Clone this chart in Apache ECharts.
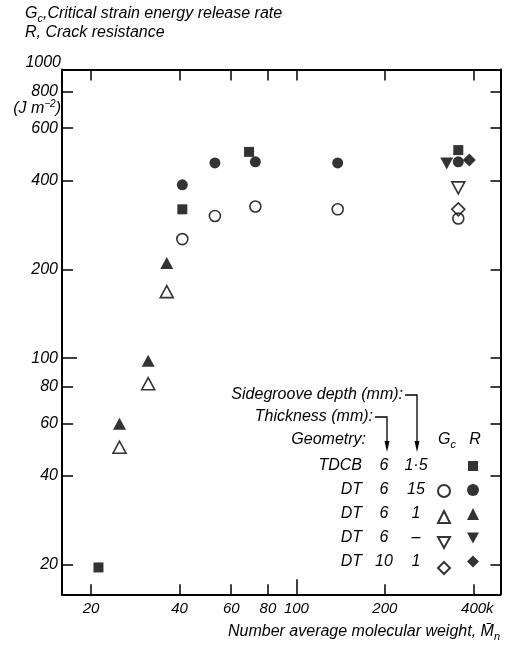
<!DOCTYPE html>
<html>
<head>
<meta charset="utf-8">
<script src="https://cdn.jsdelivr.net/npm/echarts@6/dist/echarts.min.js"></script>
<style>
  html, body { margin: 0; padding: 0; background: #fff; }
  #chart { width: 505px; height: 646px; }
</style>
</head>
<body>
<div id="chart"></div>
<script>
// Tick values: molecular weight (k) and energy (J m^-2)
const xTicks = [20, 40, 60, 80, 100, 200, 400];
const yTicks = [20, 40, 60, 80, 100, 200, 400, 600, 800];

// Measurements: [Mn (k), value (J m^-2)]
const tdcbR   = [[21.2, 19.6], [40.9, 319], [69, 499], [355.6, 506]];
const dt615Gc = [[40.9, 253], [52.8, 303], [72.5, 326], [138.2, 319], [355.6, 297]];
const dt615R  = [[40.9, 386], [52.8, 458], [72.5, 462], [138.2, 458], [355.6, 462]];
const dt61Gc  = [[25, 50], [31.3, 82], [36.2, 168]];
const dt61R   = [[25, 60], [31.3, 98], [36.2, 210]];
const dt6Gc   = [[355.6, 377]];
const dt6R    = [[324.8, 456]];
const dt101Gc = [[355.6, 319]];
const dt101R  = [[387.7, 468]];

// Key table columns
const geometry  = ['TDCB', 'DT', 'DT', 'DT', 'DT'];
const thickness = ['6', '6', '6', '6', '10'];
const depth     = ['1·5', '15', '1', '–', '1'];

const FONT = 'Liberation Sans';
const INK = '#000';
const DOWN_TRIANGLE = 'path://M0,0 L12,0 L6,11 Z';

const chart = echarts.init(document.getElementById('chart'), null, { renderer: 'canvas' });

const openStyle = { color: 'transparent', borderColor: INK, borderWidth: 1.6 };
const fillStyle = { color: INK, borderColor: INK, borderWidth: 0 };

function sc(name, data, symbol, size, style, rotate) {
  return {
    name: name, type: 'scatter', data: data,
    xAxisIndex: 0, yAxisIndex: 0,
    symbol: symbol, symbolSize: size, symbolRotate: rotate || 0,
    itemStyle: style, silent: true,
    emphasis: { disabled: true }
  };
}

const series = [
  sc('DT 6 1.5 Gc', dt615Gc, 'circle', 11, openStyle),
  sc('DT 6 1 Gc', dt61Gc, 'triangle', [13, 12], openStyle),
  sc('DT 6 - Gc', dt6Gc, 'triangle', [13, 12], openStyle, 180),
  sc('DT 10 1 Gc', dt101Gc, 'diamond', [13, 13], openStyle),
  sc('TDCB R', tdcbR, 'rect', 10, fillStyle),
  sc('DT 6 1.5 R', dt615R, 'circle', 11, fillStyle),
  sc('DT 6 1 R', dt61R, 'triangle', [13, 12], fillStyle),
  sc('DT 6 - R', dt6R, 'triangle', [13, 12], fillStyle, 180),
  sc('DT 10 1 R', dt101R, 'diamond', [13, 13], fillStyle)
];

const X_MIN = 15.93, X_MAX = 495, Y_MIN = 15.9, Y_MAX = 948;
const frameLine = { lineStyle: { color: INK, width: 2 } };
const tickStyle = { color: INK, width: 1.5 };
const labelFont = { fontFamily: FONT, fontStyle: 'italic', color: INK };

function xAx(pos, ticks, len, labels, lineShow) {
  return {
    type: 'log', logBase: 10, min: X_MIN, max: X_MAX, position: pos, gridIndex: 0,
    axisLine: Object.assign({ show: lineShow }, frameLine),
    axisTick: { show: true, inside: true, length: len, customValues: ticks, lineStyle: tickStyle },
    minorTick: { show: false }, splitLine: { show: false },
    axisLabel: labels ? Object.assign({
      show: true, customValues: xTicks, fontSize: 15, margin: 7,
      formatter: v => (v === 400 ? '{pad|}400k' : String(v)),
      rich: { pad: { width: 8 } }
    }, labelFont) : { show: false }
  };
}
function yAx(pos, ticks, len, labels, lineShow) {
  return {
    type: 'log', logBase: 10, min: Y_MIN, max: Y_MAX, position: pos, gridIndex: 0,
    axisLine: Object.assign({ show: lineShow }, frameLine),
    axisTick: { show: true, inside: true, length: len, customValues: ticks, lineStyle: tickStyle },
    minorTick: { show: false }, splitLine: { show: false },
    axisLabel: labels ? Object.assign({
      show: true, customValues: yTicks, fontSize: 16, margin: 4,
      formatter: v => String(v)
    }, labelFont) : { show: false }
  };
}

// Key: table text, header and arrows
const graphic = [];
function txt(x, y, text, align, size, rich) {
  graphic.push({
    type: 'text', x: x, y: y, silent: true,
    style: {
      text: text, fill: INK, font: 'italic ' + (size || 16) + 'px "' + FONT + '"',
      align: align || 'right', verticalAlign: 'middle', rich: rich
    }
  });
}
const gcRich = {
  g: { fontFamily: FONT, fontStyle: 'italic', fontSize: 16, lineHeight: 20 },
  s: { fontFamily: FONT, fontStyle: 'italic', fontSize: 11, lineHeight: 11, verticalAlign: 'bottom' },
  t: { fontFamily: FONT, fontStyle: 'italic', fontSize: 16, lineHeight: 20 }
};

txt(25, 14, '{g|G}{s|c}{t|,Critical strain energy release rate}', 'left', 16, gcRich);
txt(25, 33, 'R, Crack resistance', 'left', 16);
txt(61, 62.5, '1000', 'right', 16);
txt(61, 109, '{t|(J m}{p|−2}{t|)}', 'right', 16, {
  t: { fontFamily: FONT, fontStyle: 'italic', fontSize: 16, lineHeight: 20 },
  p: { fontFamily: FONT, fontStyle: 'italic', fontSize: 10, lineHeight: 10, verticalAlign: 'top' }
});
txt(500, 632, '{t|Number average molecular weight, M\u0304}{s|n}', 'right', 16, {
  t: { fontFamily: FONT, fontStyle: 'italic', fontSize: 16, lineHeight: 20 },
  s: { fontFamily: FONT, fontStyle: 'italic', fontSize: 11, lineHeight: 11, verticalAlign: 'bottom' }
});

txt(403, 395, 'Sidegroove depth (mm):', 'right');
txt(373, 417, 'Thickness (mm):', 'right');
txt(366, 440, 'Geometry:', 'right');
txt(447, 440, '{g|G}{s|c}', 'center', 16, gcRich);
txt(475, 440, 'R', 'center');

const rowY = [466, 490, 514, 538, 562];
geometry.forEach((g, i) => {
  txt(362, rowY[i], g, 'right');
  txt(384, rowY[i], thickness[i], 'center');
  txt(416, rowY[i], depth[i], 'center');
});

// leader lines with arrowheads
function leader(x0, y0, x1, yTip) {
  graphic.push({
    type: 'polyline', silent: true,
    shape: { points: [[x0, y0], [x1, y0], [x1, yTip - 8]] },
    style: { stroke: INK, lineWidth: 1.3, fill: null }
  });
  graphic.push({
    type: 'polygon', silent: true,
    shape: { points: [[x1 - 2.5, yTip - 11], [x1 + 2.5, yTip - 11], [x1, yTip]] },
    style: { fill: INK }
  });
}
leader(375, 417, 387, 452);
leader(405, 395, 417, 452);

const legendBase = {
  orient: 'vertical', padding: 0, selectedMode: false,
  formatter: () => '', textStyle: { fontSize: 1 }
};

chart.setOption({
  animation: false,
  backgroundColor: '#fff',
  grid: { left: 62, right: 4.5, top: 69.5, bottom: 51.7, containLabel: false },
  xAxis: [
    xAx('bottom', [20, 40, 60, 80, 200, 400], 10, true, true),
    xAx('top', [20, 40, 60, 80, 100, 200, 400], 11, false, true),
    xAx('bottom', [100], 15, false, false)
  ],
  yAxis: [
    yAx('left', [20, 40, 60, 80, 200, 400, 600, 800], 11, true, true),
    yAx('right', [20, 40, 60, 80, 100, 200, 400, 600, 800], 10, false, true),
    yAx('left', [100], 15, false, false)
  ],
  legend: [
    Object.assign({ data: ['TDCB R'], left: 468, top: 461, itemWidth: 10, itemHeight: 10 }, legendBase),
    Object.assign({ data: ['DT 6 1.5 R', 'DT 6 1 R', { name: 'DT 6 - R', icon: DOWN_TRIANGLE }, 'DT 10 1 R'],
      left: 467, top: 484, itemWidth: 12, itemHeight: 12, itemGap: 12 }, legendBase),
    Object.assign({ data: ['DT 6 1.5 Gc', 'DT 6 1 Gc', { name: 'DT 6 - Gc', icon: DOWN_TRIANGLE }, 'DT 10 1 Gc'],
      left: 437, top: 484, itemWidth: 12, itemHeight: 12, itemGap: 12 }, legendBase)
  ],
  series: series,
  graphic: graphic
});
</script>
</body>
</html>
